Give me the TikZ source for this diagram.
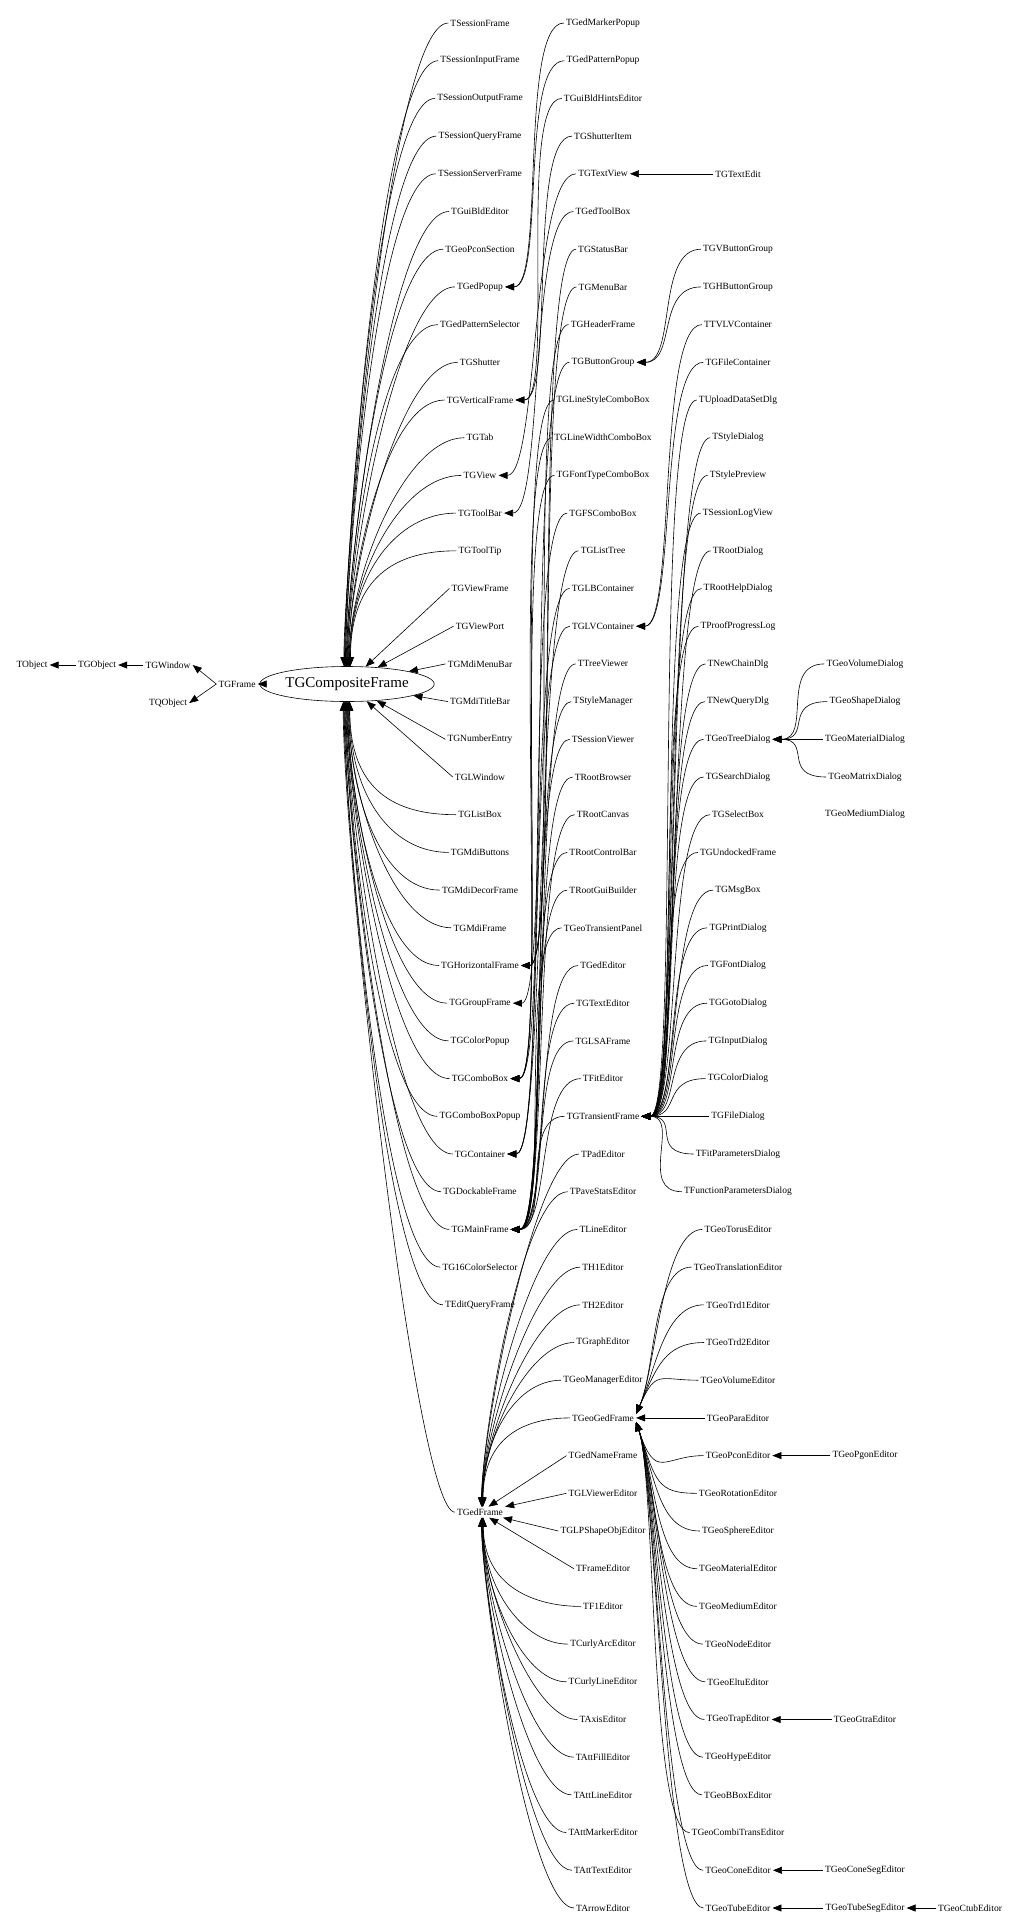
\documentclass[tikz,border=0pt]{standalone}
\usepackage{fontspec}
\setmainfont{Liberation Serif}
\usetikzlibrary{shapes.geometric,arrows.meta}
\begin{document}
\begin{tikzpicture}[x=1pt,y=1pt,
  lbl/.style={font=\fontsize{9.5}{11}\selectfont, inner sep=2pt},
  edge/.style={-{Triangle[length=9pt,width=7pt]}, line width=0.6pt}]
\useasboundingbox (0,0) rectangle (1021,-1931);
\def\ry#1{-(23+37.7*#1)}
\node[lbl] (TObject) at (32,-665) {TObject};
\node[lbl] (TGObject) at (97,-665) {TGObject};
\node[lbl] (TGWindow) at (168,-665) {TGWindow};
\node[lbl] (TQObject) at (168,-703) {TQObject};
\node[lbl] (TGFrame) at (237,-684) {TGFrame};
\node[draw, ellipse, minimum width=140pt, minimum height=35pt, inner sep=0pt, line width=0.6pt, font=\fontsize{15}{17}\selectfont] (TGCF) at (347,-684) {TGCompositeFrame};
\draw[edge] (TGObject) -- (TObject);
\draw[edge] (TGWindow) -- (TGObject);
\draw[edge] (TGFrame.west) -- (TGWindow.east);
\draw[edge] (TGFrame.west) -- (TQObject.east);
\draw[edge] (TGCF) -- (TGFrame);
% column A
\foreach \n [count=\i from 0] in {TSessionFrame,TSessionInputFrame,TSessionOutputFrame,TSessionQueryFrame,TSessionServerFrame,TGuiBldEditor,TGeoPconSection,TGedPopup,TGedPatternSelector,TGShutter,TGVerticalFrame,TGTab,TGView,TGToolBar,TGToolTip,TGViewFrame,TGViewPort,TGMdiMenuBar,TGMdiTitleBar,TGNumberEntry,TGLWindow,TGListBox,TGMdiButtons,TGMdiDecorFrame,TGMdiFrame,TGHorizontalFrame,TGGroupFrame,TGColorPopup,TGComboBox,TGComboBoxPopup,TGContainer,TGDockableFrame,TGMainFrame,TG16ColorSelector,TEditQueryFrame}{
  \node[lbl] (\n) at (480,{\ry{\i}}) {\n};
  \ifnum\i<15
    \draw[edge] (\n.west) .. controls +(-60,0) and +(0,90) .. (TGCF.{100-\i*1.5});
  \else\ifnum\i>20
    \draw[edge] (\n.west) .. controls +(-60,0) and +(0,-90) .. (TGCF.{260+(34-\i)*1.5});
  \else
    \draw[edge] (\n.west) -- (TGCF);
  \fi\fi
}
\node[lbl] (TGedFrame) at (480,{\ry{39.5}}) {TGedFrame};
\draw[edge] (TGedFrame.west) .. controls +(-40,0) and +(0,-150) .. (TGCF.258);
% column B
\foreach \n [count=\i from 0] in {TGedMarkerPopup,TGedPatternPopup,TGuiBldHintsEditor,TGShutterItem,TGTextView,TGedToolBox,TGStatusBar,TGMenuBar,TGHeaderFrame,TGButtonGroup,TGLineStyleComboBox,TGLineWidthComboBox,TGFontTypeComboBox,TGFSComboBox,TGListTree,TGLBContainer,TGLVContainer,TTreeViewer,TStyleManager,TSessionViewer,TRootBrowser,TRootCanvas,TRootControlBar,TRootGuiBuilder,TGeoTransientPanel,TGedEditor,TGTextEditor,TGLSAFrame,TFitEditor,TGTransientFrame,TPadEditor,TPaveStatsEditor,TLineEditor,TH1Editor,TH2Editor,TGraphEditor,TGeoManagerEditor,TGeoGedFrame,TGedNameFrame,TGLViewerEditor,TGLPShapeObjEditor,TFrameEditor,TF1Editor,TCurlyArcEditor,TCurlyLineEditor,TAxisEditor,TAttFillEditor,TAttLineEditor,TAttMarkerEditor,TAttTextEditor,TArrowEditor}{
  \node[lbl] (\n) at (603,{\ry{\i}}) {\n};
}
% column C
\node[lbl] (TGTextEdit) at (738,{\ry{4}}) {TGTextEdit};
\foreach \n [count=\i from 6] in {TGVButtonGroup,TGHButtonGroup,TTVLVContainer,TGFileContainer,TUploadDataSetDlg,TStyleDialog,TStylePreview,TSessionLogView,TRootDialog,TRootHelpDialog,TProofProgressLog,TNewChainDlg,TNewQueryDlg,TGeoTreeDialog,TGSearchDialog,TGSelectBox,TGUndockedFrame,TGMsgBox,TGPrintDialog,TGFontDialog,TGGotoDialog,TGInputDialog,TGColorDialog,TGFileDialog,TFitParametersDialog,TFunctionParametersDialog,TGeoTorusEditor,TGeoTranslationEditor,TGeoTrd1Editor,TGeoTrd2Editor,TGeoVolumeEditor,TGeoParaEditor,TGeoPconEditor,TGeoRotationEditor,TGeoSphereEditor,TGeoMaterialEditor,TGeoMediumEditor,TGeoNodeEditor,TGeoEltuEditor,TGeoTrapEditor,TGeoHypeEditor,TGeoBBoxEditor,TGeoCombiTransEditor,TGeoConeEditor,TGeoTubeEditor}{
  \node[lbl] (\n) at (738,{\ry{\i}}) {\n};
}
% column D/E
\foreach \n/\r in {TGeoVolumeDialog/17,TGeoShapeDialog/18,TGeoMaterialDialog/19,TGeoMatrixDialog/20,TGeoMediumDialog/21,TGeoPgonEditor/38,TGeoGtraEditor/45,TGeoConeSegEditor/49,TGeoTubeSegEditor/50}{
  \node[lbl] (\n) at (865,{\ry{\r}}) {\n};
}
\node[lbl] (TGeoCtubEditor) at (970,{\ry{50}}) {TGeoCtubEditor};
% edges into TGedFrame (row 39.5)
\foreach \c/\r in {TPadEditor/30,TPaveStatsEditor/31,TLineEditor/32,TH1Editor/33,TH2Editor/34,TGraphEditor/35,TGeoManagerEditor/36,TGeoGedFrame/37,TGedNameFrame/38,TGLViewerEditor/39,TGLPShapeObjEditor/40,TFrameEditor/41,TF1Editor/42,TCurlyArcEditor/43,TCurlyLineEditor/44,TAxisEditor/45,TAttFillEditor/46,TAttLineEditor/47,TAttMarkerEditor/48,TAttTextEditor/49,TArrowEditor/50}{
  \ifnum\r<38
    \draw[edge] (\c.west) .. controls +(-45,0) and +(0,70) .. (TGedFrame.{75-(\r-30)*2});
  \else\ifnum\r>41
    \draw[edge] (\c.west) .. controls +(-45,0) and +(0,-70) .. (TGedFrame.{-75+(50-\r)*2});
  \else
    \draw[edge] (\c.west) -- (TGedFrame);
  \fi\fi
}
% edges into TGeoGedFrame (row 37)
\foreach \c/\r in {TGeoTorusEditor/32,TGeoTranslationEditor/33,TGeoTrd1Editor/34,TGeoTrd2Editor/35,TGeoVolumeEditor/36,TGeoParaEditor/37,TGeoPconEditor/38,TGeoRotationEditor/39,TGeoSphereEditor/40,TGeoMaterialEditor/41,TGeoMediumEditor/42,TGeoNodeEditor/43,TGeoEltuEditor/44,TGeoTrapEditor/45,TGeoHypeEditor/46,TGeoBBoxEditor/47,TGeoCombiTransEditor/48,TGeoConeEditor/49,TGeoTubeEditor/50}{
  \ifnum\r<37
    \draw[edge] (\c.west) .. controls +(-40,0) and +(20,45) .. ([yshift=4pt]TGeoGedFrame.east);
  \else\ifnum\r>37
    \draw[edge] (\c.west) .. controls +(-40,0) and +(20,-60) .. ([yshift=-4pt]TGeoGedFrame.east);
  \else
    \draw[edge] (\c.west) -- (TGeoGedFrame.east);
  \fi\fi
}
% other edges
\foreach \c/\p in {TGedMarkerPopup/TGedPopup,TGedPatternPopup/TGedPopup,TGuiBldHintsEditor/TGVerticalFrame,TGShutterItem/TGVerticalFrame,TGTextView/TGView,TGedToolBox/TGToolBar,TGStatusBar/TGHorizontalFrame,TGMenuBar/TGHorizontalFrame,TGHeaderFrame/TGHorizontalFrame,TGButtonGroup/TGGroupFrame,TGLineStyleComboBox/TGComboBox,TGLineWidthComboBox/TGComboBox,TGFontTypeComboBox/TGComboBox,TGFSComboBox/TGComboBox,TGListTree/TGContainer,TGLBContainer/TGContainer,TGLVContainer/TGContainer,TTreeViewer/TGMainFrame,TStyleManager/TGMainFrame,TSessionViewer/TGMainFrame,TRootBrowser/TGMainFrame,TRootCanvas/TGMainFrame,TRootControlBar/TGMainFrame,TRootGuiBuilder/TGMainFrame,TGeoTransientPanel/TGMainFrame,TGedEditor/TGMainFrame,TGTextEditor/TGMainFrame,TGLSAFrame/TGMainFrame,TFitEditor/TGMainFrame,TGTransientFrame/TGMainFrame,
TGTextEdit/TGTextView,TGVButtonGroup/TGButtonGroup,TGHButtonGroup/TGButtonGroup,TTVLVContainer/TGLVContainer,TGFileContainer/TGLVContainer,
TUploadDataSetDlg/TGTransientFrame,TStyleDialog/TGTransientFrame,TStylePreview/TGTransientFrame,TSessionLogView/TGTransientFrame,TRootDialog/TGTransientFrame,TRootHelpDialog/TGTransientFrame,TProofProgressLog/TGTransientFrame,TNewChainDlg/TGTransientFrame,TNewQueryDlg/TGTransientFrame,TGeoTreeDialog/TGTransientFrame,TGSearchDialog/TGTransientFrame,TGSelectBox/TGTransientFrame,TGUndockedFrame/TGTransientFrame,TGMsgBox/TGTransientFrame,TGPrintDialog/TGTransientFrame,TGFontDialog/TGTransientFrame,TGGotoDialog/TGTransientFrame,TGInputDialog/TGTransientFrame,TGColorDialog/TGTransientFrame,TGFileDialog/TGTransientFrame,TFitParametersDialog/TGTransientFrame,TFunctionParametersDialog/TGTransientFrame,
TGeoVolumeDialog/TGeoTreeDialog,TGeoShapeDialog/TGeoTreeDialog,TGeoMaterialDialog/TGeoTreeDialog,TGeoMatrixDialog/TGeoTreeDialog,TGeoPgonEditor/TGeoPconEditor,TGeoGtraEditor/TGeoTrapEditor,TGeoConeSegEditor/TGeoConeEditor,TGeoTubeSegEditor/TGeoTubeEditor,TGeoCtubEditor/TGeoTubeSegEditor}{
  \draw[edge] (\c.west) .. controls +(-45,0) and +(40,0) .. (\p.east);
}
\end{tikzpicture}
\end{document}
